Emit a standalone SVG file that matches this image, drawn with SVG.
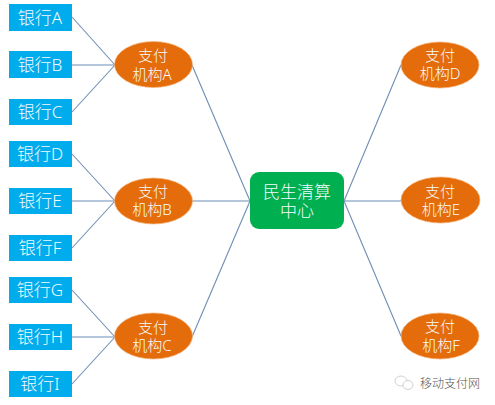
<svg xmlns="http://www.w3.org/2000/svg" width="495" height="405" viewBox="0 0 495 405">
<style>
text{font-family:"Noto Sans","Noto Sans CJK SC",sans-serif;font-weight:300;fill:#f4fbff;text-anchor:middle}
.bank rect{fill:#00acec}
.bank text{font-size:17px}
.org ellipse{fill:#e46c0a;stroke:#f2b27a;stroke-width:.7}
.org text{font-size:15px}
.c line{stroke:#6f8db5;stroke-width:1.1}
.mid text{font-size:17px}
</style>
<rect width="495" height="405" fill="#fff"/>
<g class="c" id="connectors">
<line x1="72" y1="17" x2="115" y2="65"/><line x1="72" y1="65" x2="115" y2="65"/><line x1="72" y1="112" x2="115" y2="65"/>
<line x1="72" y1="154" x2="115" y2="201"/><line x1="72" y1="201" x2="115" y2="201"/><line x1="72" y1="248" x2="115" y2="201"/>
<line x1="72" y1="290" x2="115" y2="337"/><line x1="72" y1="337" x2="115" y2="337"/><line x1="72" y1="384" x2="115" y2="337"/>
<line x1="192" y1="65" x2="250" y2="201"/><line x1="192" y1="201" x2="250" y2="201"/><line x1="192" y1="337" x2="250" y2="201"/>
<line x1="344" y1="201" x2="401" y2="65"/><line x1="344" y1="201" x2="401" y2="201"/><line x1="344" y1="201" x2="401" y2="336"/>
</g>
<g id="bankA" class="bank"><rect x="9" y="4" width="63" height="27"/><text x="40" y="24">银行A</text></g>
<g id="bankB" class="bank"><rect x="9" y="51" width="63" height="27"/><text x="40" y="71">银行B</text></g>
<g id="bankC" class="bank"><rect x="9" y="99" width="63" height="26"/><text x="40" y="118">银行C</text></g>
<g id="bankD" class="bank"><rect x="9" y="141" width="63" height="26"/><text x="40" y="160">银行D</text></g>
<g id="bankE" class="bank"><rect x="9" y="188" width="63" height="26"/><text x="40" y="207">银行E</text></g>
<g id="bankF" class="bank"><rect x="9" y="235" width="63" height="26"/><text x="40" y="254">银行F</text></g>
<g id="bankG" class="bank"><rect x="9" y="277" width="63" height="26"/><text x="40" y="296">银行G</text></g>
<g id="bankH" class="bank"><rect x="9" y="324" width="63" height="26"/><text x="40" y="343">银行H</text></g>
<g id="bankI" class="bank"><rect x="9" y="371" width="63" height="26"/><text x="40" y="390">银行I</text></g>
<g id="orgA" class="org"><ellipse cx="153.500" cy="64.500" rx="39" ry="23"/><text x="153" y="61">支付</text><text x="152" y="80">机构A</text></g>
<g id="orgB" class="org"><ellipse cx="153.500" cy="201" rx="39" ry="23"/><text x="153" y="197">支付</text><text x="152" y="215">机构B</text></g>
<g id="orgC" class="org"><ellipse cx="153.500" cy="336" rx="39" ry="23"/><text x="153" y="333">支付</text><text x="152" y="351">机构C</text></g>
<g id="orgD" class="org"><ellipse cx="440" cy="65" rx="39" ry="23"/><text x="440" y="61">支付</text><text x="440" y="79">机构D</text></g>
<g id="orgE" class="org"><ellipse cx="440.500" cy="200" rx="39.500" ry="23"/><text x="440" y="197">支付</text><text x="441" y="215">机构E</text></g>
<g id="orgF" class="org"><ellipse cx="440" cy="336" rx="39" ry="23"/><text x="440" y="332">支付</text><text x="441" y="351">机构F</text></g>
<g id="center" class="mid"><rect x="250" y="172" width="94" height="57" rx="9" fill="#00b050"/><text x="297" y="198">民生清算</text><text x="297" y="217">中心</text></g>
<g id="watermark">
<ellipse cx="401" cy="381" rx="6" ry="5" fill="#fff" stroke="#c4c4c4" stroke-width=".8"/>
<ellipse cx="408" cy="385" rx="5" ry="4.500" fill="#fff" stroke="#c4c4c4" stroke-width=".8"/>
<text x="450" y="388" style="fill:#555;font-size:12px">移动支付网</text>
</g>
</svg>
